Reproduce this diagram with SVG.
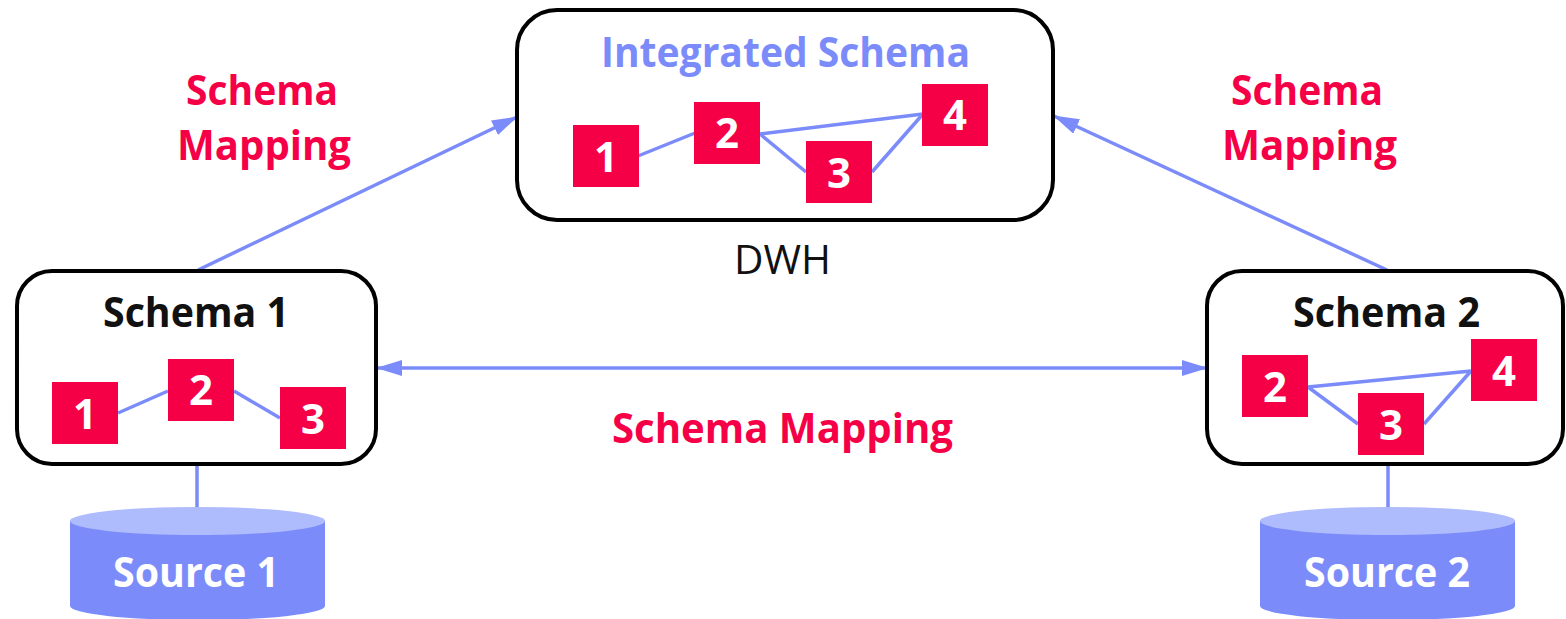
<svg xmlns="http://www.w3.org/2000/svg" width="1566" height="619" viewBox="0 0 1566 619">
  <style>
    .box { fill: #ffffff; stroke: #000000; stroke-width: 4; }
    .ent { fill: #F50047; }
    .num { font-family: "Open Sans", "Liberation Sans", sans-serif; font-weight: bold; font-size: 42px; fill: #ffffff; text-anchor: middle; }
    .title { font-family: "Open Sans", "Liberation Sans", sans-serif; font-weight: bold; font-size: 42px; fill: #111111; }
    .ititle { font-family: "Open Sans", "Liberation Sans", sans-serif; font-weight: bold; font-size: 42px; fill: #7B8CFA; }
    .map { font-family: "Open Sans", "Liberation Sans", sans-serif; font-weight: bold; font-size: 42px; fill: #F50047; }
    .dwh { font-family: "Open Sans", "Liberation Sans", sans-serif; font-size: 40px; fill: #111111; }
    .src { font-family: "Open Sans", "Liberation Sans", sans-serif; font-weight: bold; font-size: 42px; fill: #ffffff; }
    .rel { stroke: #7B8CFA; stroke-width: 3.5; fill: none; }
    .conn { stroke: #7B8CFA; stroke-width: 3.5; fill: none; }
    .cylbody { fill: #7B8CFA; }
    .cyltop { fill: #AEBBFC; }
  </style>
  <defs>
    <marker id="arrow" markerUnits="userSpaceOnUse" markerWidth="26" markerHeight="16" refX="25" refY="8" orient="auto-start-reverse" viewBox="0 0 26 16">
      <path d="M0,0 L26,8 L0,16 Z" fill="#7B8CFA"/>
    </marker>
  </defs>

  <g id="connectors">
    <line class="conn" x1="198" y1="270" x2="517" y2="117" marker-end="url(#arrow)"/>
    <line class="conn" x1="1387" y1="270" x2="1054" y2="116" marker-end="url(#arrow)"/>
    <line class="conn" x1="377" y1="368" x2="1207" y2="368" marker-start="url(#arrow)" marker-end="url(#arrow)"/>
    <line class="conn" x1="197" y1="466" x2="197" y2="507"/>
    <line class="conn" x1="1388" y1="466" x2="1388" y2="507"/>
  </g>

  <g id="integrated-schema">
    <rect class="box" x="517" y="10" width="536" height="210" rx="40" ry="40"/>
    <text class="ititle" x="601" y="67" textLength="369" lengthAdjust="spacingAndGlyphs">Integrated Schema</text>
    <line class="rel" x1="638" y1="156" x2="695" y2="133"/>
    <line class="rel" x1="760" y1="134" x2="923" y2="114"/>
    <line class="rel" x1="760" y1="134" x2="806" y2="172"/>
    <line class="rel" x1="872" y1="172" x2="923" y2="114"/>
    <rect class="ent" x="573" y="125" width="66" height="62"/>
    <text class="num" x="606" y="172">1</text>
    <rect class="ent" x="694" y="102" width="66" height="62"/>
    <text class="num" x="727" y="148">2</text>
    <rect class="ent" x="806" y="141" width="66" height="62"/>
    <text class="num" x="839" y="188">3</text>
    <rect class="ent" x="922" y="84" width="66" height="62"/>
    <text class="num" x="955" y="130">4</text>
  </g>

  <g id="dwh-label">
    <text class="dwh" x="734" y="274" textLength="97" lengthAdjust="spacingAndGlyphs">DWH</text>
  </g>

  <g id="schema-1">
    <rect class="box" x="17" y="271" width="359" height="193" rx="35" ry="35"/>
    <text class="title" x="103" y="327" textLength="186" lengthAdjust="spacingAndGlyphs">Schema 1</text>
    <line class="rel" x1="118" y1="413" x2="168" y2="391"/>
    <line class="rel" x1="234" y1="391" x2="280" y2="418"/>
    <rect class="ent" x="52" y="382" width="66" height="62"/>
    <text class="num" x="85" y="429">1</text>
    <rect class="ent" x="168" y="359" width="66" height="62"/>
    <text class="num" x="201" y="405">2</text>
    <rect class="ent" x="280" y="387" width="66" height="62"/>
    <text class="num" x="313" y="434">3</text>
  </g>

  <g id="schema-2">
    <rect class="box" x="1207" y="271" width="356" height="193" rx="35" ry="35"/>
    <text class="title" x="1293" y="327" textLength="187" lengthAdjust="spacingAndGlyphs">Schema 2</text>
    <line class="rel" x1="1308" y1="387" x2="1471" y2="371"/>
    <line class="rel" x1="1308" y1="387" x2="1358" y2="424"/>
    <line class="rel" x1="1424" y1="424" x2="1471" y2="371"/>
    <rect class="ent" x="1242" y="355" width="66" height="62"/>
    <text class="num" x="1275" y="402">2</text>
    <rect class="ent" x="1358" y="393" width="66" height="62"/>
    <text class="num" x="1391" y="440">3</text>
    <rect class="ent" x="1471" y="339" width="66" height="62"/>
    <text class="num" x="1504" y="386">4</text>
  </g>

  <g id="source-1">
    <path class="cylbody" d="M70,521 L70,606 A127.5,14 0 0 0 325,606 L325,521 Z"/>
    <ellipse class="cyltop" cx="197.5" cy="521" rx="127.5" ry="14"/>
    <text class="src" x="113" y="587" textLength="166" lengthAdjust="spacingAndGlyphs">Source 1</text>
  </g>

  <g id="source-2">
    <path class="cylbody" d="M1260,521 L1260,606 A127.5,14 0 0 0 1515,606 L1515,521 Z"/>
    <ellipse class="cyltop" cx="1387.5" cy="521" rx="127.5" ry="14"/>
    <text class="src" x="1304" y="587" textLength="166" lengthAdjust="spacingAndGlyphs">Source 2</text>
  </g>

  <g id="mapping-labels">
    <text class="map" x="186" y="105" textLength="152" lengthAdjust="spacingAndGlyphs">Schema</text>
    <text class="map" x="177" y="160" textLength="174" lengthAdjust="spacingAndGlyphs">Mapping</text>
    <text class="map" x="1231" y="105" textLength="152" lengthAdjust="spacingAndGlyphs">Schema</text>
    <text class="map" x="1222" y="160" textLength="175" lengthAdjust="spacingAndGlyphs">Mapping</text>
    <text class="map" x="612" y="443" textLength="341" lengthAdjust="spacingAndGlyphs">Schema Mapping</text>
  </g>
</svg>
